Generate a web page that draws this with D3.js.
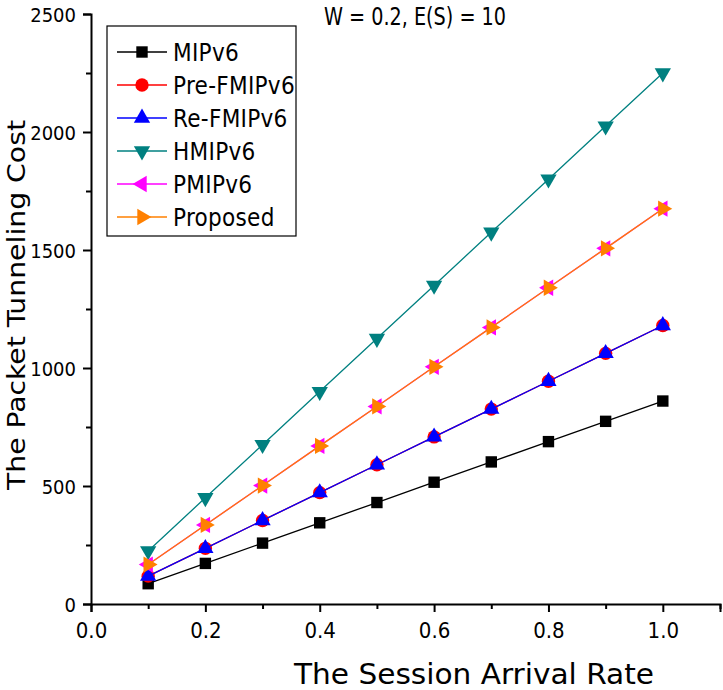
<!DOCTYPE html>
<html>
<head>
<meta charset="utf-8">
<script src="https://cdn.jsdelivr.net/npm/d3@7"></script>
<style>
html,body{margin:0;padding:0;background:#fff;}
svg{display:block;}
text{font-family:"DejaVu Sans Condensed","Liberation Sans",sans-serif;fill:#000;}
</style>
</head>
<body>
<script>
const rates = [0.1,0.2,0.3,0.4,0.5,0.6,0.7,0.8,0.9,1.0];
const mipv6 = [86,172,258,344,430,516,602,688,774,860];
const preFmipv6 = [118,236,354,472,590,708,826,944,1062,1180];
const reFmipv6 = [118,236,354,472,590,708,826,944,1062,1180];
const hmipv6 = [225,450,675,900,1125,1350,1575,1800,2025,2250];
const pmipv6 = [167,335,502,670,837,1005,1172,1340,1507,1675];
const proposed = [167,335,502,670,837,1005,1172,1340,1507,1675];
const seriesNames = ["MIPv6","Pre-FMIPv6","Re-FMIPv6","HMIPv6","PMIPv6","Proposed"];
const seriesColors = ["#000000","#ff0000","#0000ff","#008080","#ff00ff","#ff8000"];
const seriesShapes = ["square","circle","up","down","left","right"];
const xMajorTicks = [0.0,0.2,0.4,0.6,0.8,1.0];
const xMinorTicks = [0.1,0.3,0.5,0.7,0.9,1.1];
const yMajorTicks = [0,500,1000,1500,2000,2500];
const yMinorTicks = [250,750,1250,1750,2250];
const titleText = "W = 0.2, E(S) = 10";
const xTitle = "The Session Arrival Rate";
const yTitle = "The Packet Tunneling Cost";

const allValues = [mipv6,preFmipv6,reFmipv6,hmipv6,pmipv6,proposed];

const W = 723, H = 690;
const svg = d3.select("body").append("svg").attr("width",W).attr("height",H);

const x = d3.scaleLinear().domain([0,1.1]).range([91,720]);
const y = d3.scaleLinear().domain([0,2500]).range([604,14]);

// axes
const xAxisG = svg.append("g").attr("transform",`translate(0,${y(0)})`);
xAxisG.call(d3.axisBottom(x).tickValues(xMajorTicks).tickSize(8).tickPadding(7).tickFormat(d3.format(".1f")));
const xMinor = xAxisG.append("g").call(d3.axisBottom(x).tickValues(xMinorTicks).tickSize(5).tickFormat(""));
const yAxisG = svg.append("g").attr("transform",`translate(${x(0)},0)`);
yAxisG.call(d3.axisLeft(y).tickValues(yMajorTicks).tickSize(8).tickPadding(7).tickFormat(d3.format("d")));
const yMinor = yAxisG.append("g").call(d3.axisLeft(y).tickValues(yMinorTicks).tickSize(5).tickFormat(""));
xMinor.select(".domain").remove();
yMinor.select(".domain").remove();
svg.selectAll(".domain").attr("stroke","#000").attr("stroke-width",2);
svg.selectAll(".tick line").attr("stroke","#000").attr("stroke-width",2);
svg.selectAll("g").attr("font-family",null).attr("font-size",null);
xAxisG.selectAll(".tick text").attr("font-size",22).attr("dy","0.85em");
yAxisG.selectAll(".tick text").attr("font-size",20).attr("dy","0.36em");

// titles
svg.append("text").attr("x",474).attr("y",684).attr("text-anchor","middle").attr("font-size",29)
  .attr("textLength",360).attr("lengthAdjust","spacingAndGlyphs").text(xTitle);
svg.append("text").attr("transform",`translate(25,305) rotate(-90)`).attr("text-anchor","middle").attr("font-size",25)
  .attr("textLength",370).attr("lengthAdjust","spacingAndGlyphs").text(yTitle);
svg.append("text").attr("x",415).attr("y",25).attr("text-anchor","middle").attr("font-size",25)
  .attr("textLength",182).attr("lengthAdjust","spacingAndGlyphs").text(titleText);

function symbolPath(shape){
  if(shape==="square") return d3.symbol().type(d3.symbolSquare).size(130)();
  if(shape==="circle") return d3.symbol().type(d3.symbolCircle).size(140)();
  return d3.symbol().type(d3.symbolTriangle).size(115)();
}
function rot(shape){
  return {up:0,down:180,left:-90,right:90}[shape]||0;
}

const line = d3.line().x((d,i)=>x(rates[i])).y(d=>y(d));
allValues.forEach((vals,si)=>{
  const g = svg.append("g");
  g.append("path").attr("d",line(vals)).attr("fill","none").attr("stroke",seriesColors[si]).attr("stroke-width",1.3);
  g.selectAll("path.m").data(vals).join("path").attr("class","m")
    .attr("d",symbolPath(seriesShapes[si]))
    .attr("transform",(d,i)=>`translate(${x(rates[i])},${y(d)}) rotate(${rot(seriesShapes[si])})`)
    .attr("fill",seriesColors[si]);
});

// legend
const lg = svg.append("g");
const lx = 107, ly = 26, lw = 189, rowH = 33;
lg.append("rect").attr("x",lx).attr("y",ly).attr("width",lw).attr("height",rowH*6+12)
  .attr("fill","#fff").attr("stroke","#000").attr("stroke-width",1.2);
seriesNames.forEach((n,i)=>{
  const cy = ly + 26 + i*rowH;
  lg.append("line").attr("x1",lx+10).attr("x2",lx+60).attr("y1",cy).attr("y2",cy).attr("stroke",seriesColors[i]).attr("stroke-width",1.3);
  lg.append("path").attr("d",symbolPath(seriesShapes[i])).attr("transform",`translate(${lx+35},${cy}) rotate(${rot(seriesShapes[i])})`).attr("fill",seriesColors[i]);
  lg.append("text").attr("x",lx+66).attr("y",cy).attr("dy","0.36em").attr("font-size",24).attr("letter-spacing",0.3).text(n);
});
</script>
</body>
</html>
